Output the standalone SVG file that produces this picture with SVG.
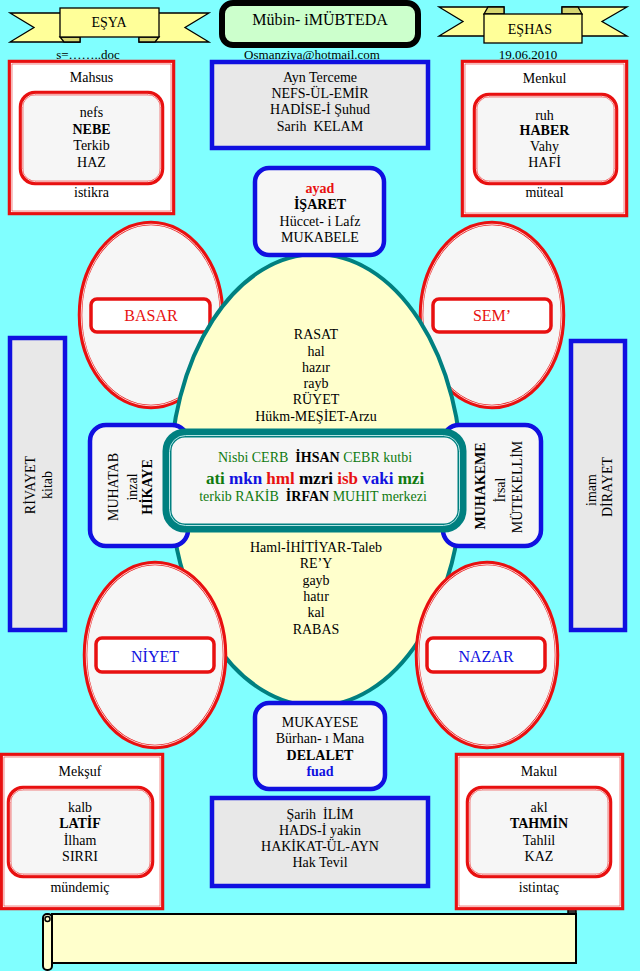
<svg xmlns="http://www.w3.org/2000/svg" width="640" height="971" viewBox="0 0 640 971">
<style>
.t{font-family:'Liberation Serif','DejaVu Serif',serif;font-size:14px;fill:#000;text-anchor:middle}
.b{font-weight:bold}
.r{fill:#e81010}
.bl{fill:#1010e0}
.g{fill:#107a10}
.band{fill:#ffff99;stroke:#000;stroke-width:1.3}
.fold{fill:#d6d670;stroke:#000;stroke-width:1.3}
.redo{fill:#fff;stroke:#e81010;stroke-width:4.5}
.redi{fill:#f6f6f6;stroke:#e81010;stroke-width:4.5}
.wl{fill:none;stroke:#fff;stroke-width:0.8}
.ell{fill:#f6f6f6;stroke:#e81010;stroke-width:4.5}
.lab{fill:#fff;stroke:#e81010;stroke-width:3.5}
.blue{fill:#f6f6f6;stroke:#1010e0;stroke-width:4.5}
.gray{fill:#e8e8e8;stroke:#1010e0;stroke-width:4.5}
</style>
<rect x="0" y="0" width="640" height="971" fill="#80ffff"/>

<g id="banner-esya">
<polygon class="band" points="10,13 80,13 80,42 10,42 34,27.5"/>
<polygon class="band" points="209,13 139,13 139,42 209,42 185,27.5"/>
<polygon class="fold" points="60,37 80,37 80,42 64,42"/>
<polygon class="fold" points="159,37 139,37 139,42 155,42"/>
<rect class="band" x="60" y="8" width="99" height="29"/>
<text class="t" x="109" y="27">EŞYA</text>
</g>

<g id="title">
<rect x="222" y="3" width="196" height="42" rx="11" fill="#ccffcc" stroke="#000" stroke-width="6"/>
<text class="t" x="320" y="25" style="font-size:16px">Mübin- iMÜBTEDA</text>
</g>

<g id="banner-eshas">
<polygon class="band" points="439,7 504,7 504,36 439,36 463,21.5"/>
<polygon class="band" points="627,7 562,7 562,36 627,36 602,21.5"/>
<polygon class="fold" points="484,14 504,14 504,7 488,7"/>
<polygon class="fold" points="582,14 562,14 562,7 578,7"/>
<rect class="band" x="484" y="14" width="98" height="29"/>
<text class="t" x="530" y="34">EŞHAS</text>
</g>

<g id="header-texts">
<text class="t" x="88" y="59" style="font-size:13px">s=……..doc</text>
<text class="t" x="312" y="59" style="font-size:13px">Osmanziya@hotmail.com</text>
<text class="t" x="528" y="59" style="font-size:13px">19.06.2010</text>
</g>

<g id="connectors"></g>

<g id="mahsus">
<rect class="redo" x="10" y="62" width="163" height="151"/>
<rect class="wl" x="11.3" y="63.3" width="160.4" height="148.4"/>
<rect class="redi" x="21" y="93" width="141" height="90" rx="14"/>
<rect class="wl" x="22.3" y="94.3" width="138.4" height="87.4" rx="13"/>
<text class="t" x="91.5" y="82">Mahsus</text>
<text class="t" x="91.5" y="117">nefs</text>
<text class="t b" x="91.5" y="134">NEBE</text>
<text class="t" x="91.5" y="150">Terkib</text>
<text class="t" x="91.5" y="167">HAZ</text>
<text class="t" x="91.5" y="197">istikra</text>
</g>

<g id="ayn-terceme">
<rect class="gray" x="212" y="62" width="216" height="86"/>
<text class="t" x="320" y="82">Ayn Terceme</text>
<text class="t" x="320" y="98">NEFS-ÜL-EMİR</text>
<text class="t" x="320" y="114">HADİSE-İ Şuhud</text>
<text class="t" x="320" y="131" xml:space="preserve">Sarih  KELAM</text>
</g>

<g id="menkul">
<rect class="redo" x="463" y="62" width="163" height="153"/>
<rect class="wl" x="464.3" y="63.3" width="160.4" height="150.4"/>
<rect class="redi" x="475" y="95" width="141" height="88" rx="14"/>
<rect class="wl" x="476.3" y="96.3" width="138.4" height="85.4" rx="13"/>
<text class="t" x="544.5" y="83">Menkul</text>
<text class="t" x="544.5" y="120">ruh</text>
<text class="t b" x="544.5" y="135">HABER</text>
<text class="t" x="544.5" y="151">Vahy</text>
<text class="t" x="544.5" y="167">HAFİ</text>
<text class="t" x="544.5" y="197">müteal</text>
</g>

<g id="basar">
<ellipse class="ell" cx="151" cy="315" rx="71" ry="92"/>
<ellipse class="wl" cx="151" cy="315" rx="69.8" ry="90.8"/>
<rect class="lab" x="91" y="299" width="119" height="33" rx="6"/>
<text class="t r" x="151" y="321" style="font-size:16px">BASAR</text>
</g>

<g id="sem">
<ellipse class="ell" cx="492" cy="315" rx="71" ry="92"/>
<ellipse class="wl" cx="492" cy="315" rx="69.8" ry="90.8"/>
<rect class="lab" x="433" y="299" width="118" height="33" rx="6"/>
<text class="t r" x="492" y="321" style="font-size:16px">SEM’</text>
</g>

<g id="center-egg">
<ellipse cx="316" cy="480" rx="146" ry="226" fill="#ffffcc" stroke="#008080" stroke-width="4"/>
<text class="t" x="316" y="339">RASAT</text>
<text class="t" x="316" y="356">hal</text>
<text class="t" x="316" y="372">hazır</text>
<text class="t" x="316" y="388">rayb</text>
<text class="t" x="316" y="404">RÜYET</text>
<text class="t" x="316" y="421">Hükm-MEŞİET-Arzu</text>
<text class="t" x="316" y="552">Haml-İHİTİYAR-Taleb</text>
<text class="t" x="316" y="568">RE’Y</text>
<text class="t" x="316" y="585">gayb</text>
<text class="t" x="316" y="601">hatır</text>
<text class="t" x="316" y="617">kal</text>
<text class="t" x="316" y="634">RABAS</text>
</g>

<g id="niyet">
<ellipse class="ell" cx="155" cy="655" rx="70" ry="92"/>
<ellipse class="wl" cx="155" cy="655" rx="68.8" ry="90.8"/>
<rect class="lab" x="96" y="638" width="118" height="34" rx="6"/>
<text class="t bl" x="155" y="662" style="font-size:16px">NİYET</text>
</g>

<g id="nazar">
<ellipse class="ell" cx="487" cy="655" rx="70" ry="92"/>
<ellipse class="wl" cx="487" cy="655" rx="68.8" ry="90.8"/>
<rect class="lab" x="427" y="638" width="118" height="34" rx="6"/>
<text class="t bl" x="486" y="662" style="font-size:16px">NAZAR</text>
</g>

<g id="ayad">
<rect class="blue" x="255" y="168" width="129" height="87" rx="14"/>
<text class="t b r" x="320" y="193">ayad</text>
<text class="t b" x="320" y="209">İŞARET</text>
<text class="t" x="320" y="226">Hüccet- i Lafz</text>
<text class="t" x="320" y="242">MUKABELE</text>
</g>

<g id="rivayet">
<rect class="gray" x="10" y="338" width="55" height="292"/>
<text class="t" transform="translate(35,485) rotate(-90)">RİVAYET</text>
<text class="t" transform="translate(52,485) rotate(-90)">kitab</text>
</g>

<g id="dirayet">
<rect class="gray" x="571" y="341" width="54" height="289"/>
<text class="t" transform="translate(596,490) rotate(-90)">imam</text>
<text class="t" transform="translate(612,487) rotate(-90)">DİRAYET</text>
</g>

<g id="muhatab">
<rect class="blue" x="90" y="425" width="98" height="121" rx="16"/>
<text class="t" transform="translate(118,487) rotate(-90)">MUHATAB</text>
<text class="t" transform="translate(137,487) rotate(-90)">inzal</text>
<text class="t b" transform="translate(152,487) rotate(-90)">HİKAYE</text>
</g>

<g id="muhakeme">
<rect class="blue" x="443" y="425" width="98" height="121" rx="16"/>
<text class="t b" transform="translate(485,486) rotate(-90)">MUHAKEME</text>
<text class="t" transform="translate(505,490) rotate(-90)">İrsal</text>
<text class="t" transform="translate(522,487) rotate(-90)">MÜTEKELLİM</text>
</g>

<g id="center-box">
<rect x="167" y="433" width="295" height="95" rx="18" fill="#f6f6f6" stroke="#008080" stroke-width="9"/>
<rect x="169.5" y="435.5" width="290" height="90" rx="16" fill="none" stroke="#c8f0f0" stroke-width="0.9"/>
<text class="t" x="315" y="462" xml:space="preserve"><tspan class="g">Nisbi CERB  </tspan><tspan class="b">İHSAN</tspan><tspan class="g"> CEBR kutbi</tspan></text>
<text class="t b" x="315" y="484" style="font-size:17px" xml:space="preserve"><tspan class="g">ati </tspan><tspan class="bl">mkn </tspan><tspan class="r">hml </tspan><tspan>mzri </tspan><tspan class="r">isb </tspan><tspan class="bl">vaki </tspan><tspan class="g">mzi</tspan></text>
<text class="t" x="313" y="501" xml:space="preserve"><tspan class="g">terkib RAKİB  </tspan><tspan class="b">İRFAN</tspan><tspan class="g"> MUHIT merkezi</tspan></text>
</g>

<g id="mukayese">
<rect class="blue" x="255" y="703" width="130" height="86" rx="14"/>
<text class="t" x="320" y="727">MUKAYESE</text>
<text class="t" x="320" y="743">Bürhan- ı Mana</text>
<text class="t b" x="320" y="760">DELALET</text>
<text class="t b bl" x="320" y="776">fuad</text>
</g>

<g id="scroll">
<path d="M568,914 L568,908 L573,908 Q576,908 576,911 L576,914 Z" fill="#333" stroke="#000" stroke-width="1.5"/>
<rect x="52" y="914" width="524" height="49" fill="#ffffcc" stroke="#000" stroke-width="2"/>
<rect x="43" y="914" width="9" height="56" rx="4" fill="#ffffcc" stroke="#000" stroke-width="2"/>
<circle cx="47.5" cy="919" r="2.5" fill="#ffffcc" stroke="#000" stroke-width="1.5"/>
</g>

<g id="sarih-ilim">
<rect class="gray" x="212" y="798" width="216" height="88"/>
<text class="t" x="320" y="819" xml:space="preserve">Şarih  İLİM</text>
<text class="t" x="320" y="835">HADS-İ yakin</text>
<text class="t" x="320" y="851">HAKİKAT-ÜL-AYN</text>
<text class="t" x="320" y="867">Hak Tevil</text>
</g>

<g id="meksuf">
<rect class="redo" x="2" y="755" width="160" height="153"/>
<rect class="wl" x="3.3" y="756.3" width="157.4" height="150.4"/>
<rect class="redi" x="9" y="788" width="143" height="88" rx="14"/>
<rect class="wl" x="10.3" y="789.3" width="140.4" height="85.4" rx="13"/>
<text class="t" x="80" y="776">Mekşuf</text>
<text class="t" x="80" y="812">kalb</text>
<text class="t b" x="80" y="828">LATİF</text>
<text class="t" x="80" y="845">İlham</text>
<text class="t" x="80" y="861">SIRRI</text>
<text class="t" x="80" y="892">mündemiç</text>
</g>

<g id="makul">
<rect class="redo" x="457" y="755" width="165" height="153"/>
<rect class="wl" x="458.3" y="756.3" width="162.4" height="150.4"/>
<rect class="redi" x="468" y="788" width="142" height="88" rx="14"/>
<rect class="wl" x="469.3" y="789.3" width="139.4" height="85.4" rx="13"/>
<text class="t" x="539" y="776">Makul</text>
<text class="t" x="539" y="812">akl</text>
<text class="t b" x="539" y="828">TAHMİN</text>
<text class="t" x="539" y="845">Tahlil</text>
<text class="t" x="539" y="861">KAZ</text>
<text class="t" x="539" y="892">istintaç</text>
</g>
</svg>
